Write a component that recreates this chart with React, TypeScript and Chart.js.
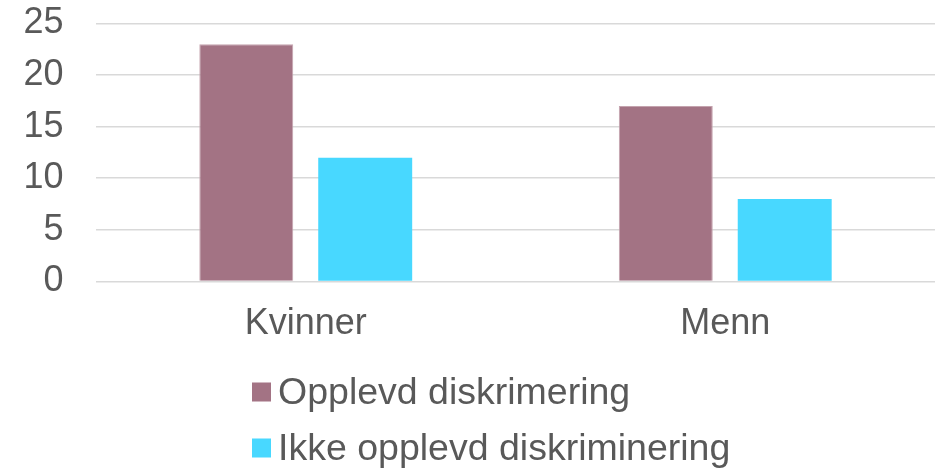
import React, { useEffect, useRef } from "react";
import { Chart, registerables } from "chart.js";

Chart.register(...registerables);

const categories = ["Kvinner", "Menn"];
const seriesNames = ["Opplevd diskrimering", "Ikke opplevd diskriminering"];
const opplevd = [23, 17];
const ikkeOpplevd = [12, 8];
const seriesColors = ["#A37384", "#48D8FF"];
const yMin = 0;
const yMax = 25;
const yStep = 5;

const FONT = '"Liberation Sans", Arial, sans-serif';
const TEXT_COLOR = "#595959";

const legendPlugin = {
  id: "verticalLegend",
  afterDraw(chart: any) {
    const ctx = chart.ctx;
    ctx.save();
    ctx.font = `37.5px ${FONT}`;
    ctx.textBaseline = "alphabetic";
    ctx.textAlign = "left";
    const baselines = [404, 460];
    chart.data.datasets.forEach((ds: any, i: number) => {
      const base = baselines[i];
      ctx.fillStyle = ds.backgroundColor;
      ctx.fillRect(252, base - 21.5, 19, 19);
      ctx.fillStyle = TEXT_COLOR;
      ctx.fillText(ds.label, 278, base);
    });
    ctx.restore();
  },
};

export default function App() {
  const ref = useRef<HTMLCanvasElement>(null);

  useEffect(() => {
    document.body.style.margin = "0";
    const canvas = ref.current;
    if (!canvas) return;
    const chart = new Chart(canvas, {
      type: "bar",
      data: {
        labels: categories,
        datasets: [
          {
            label: seriesNames[0],
            data: opplevd,
            backgroundColor: seriesColors[0],
            borderColor: "#C4A3AE",
            borderWidth: 1,
            categoryPercentage: 0.567,
            barPercentage: 0.79,
          },
          {
            label: seriesNames[1],
            data: ikkeOpplevd,
            backgroundColor: seriesColors[1],
            borderWidth: 0,
            categoryPercentage: 0.567,
            barPercentage: 0.79,
          },
        ],
      },
      options: {
        responsive: false,
        animation: false,
        devicePixelRatio: 1,
        layout: { padding: { top: 23.5, right: 3, bottom: 123.5, left: 0 } },
        plugins: {
          legend: { display: false },
          tooltip: { enabled: false },
        },
        scales: {
          x: {
            grid: { display: false, drawTicks: false },
            border: { display: false },
            ticks: {
              color: TEXT_COLOR,
              font: { family: FONT, size: 36 },
              padding: 21,
              maxRotation: 0,
            },
            afterFit(scale: any) {
              scale.height = 64;
              scale.paddingLeft = 0;
              scale.paddingRight = 0;
            },
          },
          y: {
            min: yMin,
            max: yMax,
            grid: { color: "#D9D9D9", lineWidth: 1.6, drawTicks: false },
            border: { display: false },
            ticks: {
              stepSize: yStep,
              autoSkip: false,
              color: TEXT_COLOR,
              font: { family: FONT, size: 36 },
              padding: 32.5,
            },
            afterFit(scale: any) {
              scale.width = 96;
              scale.paddingTop = 0;
              scale.paddingBottom = 0;
            },
          },
        },
      },
      plugins: [legendPlugin],
    });
    return () => chart.destroy();
  }, []);

  return (
    <div style={{ width: 938, height: 469 }}>
      <canvas ref={ref} width={938} height={469} />
    </div>
  );
}
